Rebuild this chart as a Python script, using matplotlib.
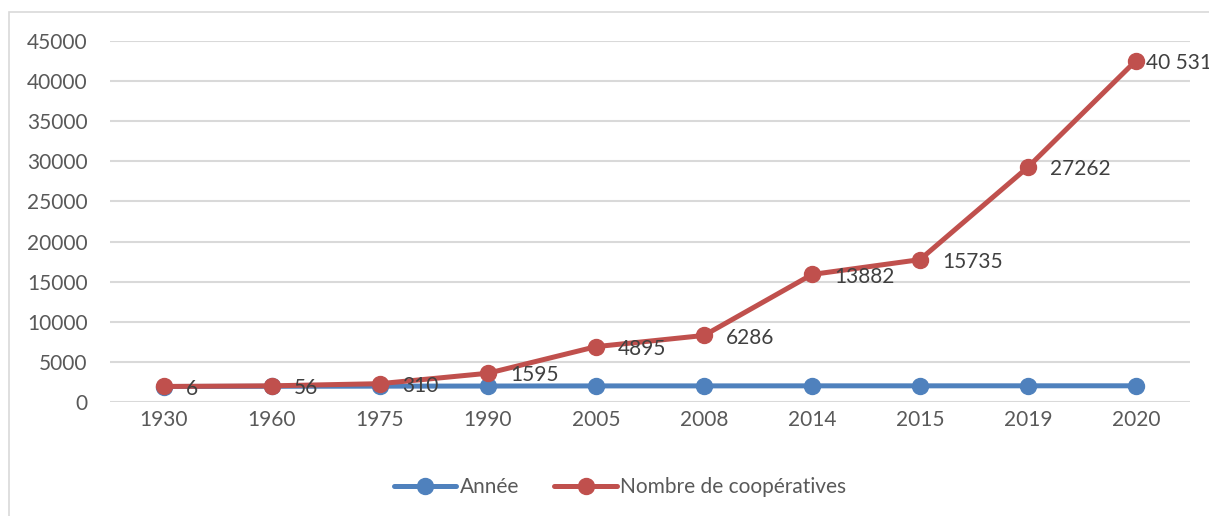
import numpy as np
import matplotlib.pyplot as plt
from matplotlib.patches import Rectangle

plt.rcParams["font.family"] = ["Lato", "DejaVu Sans"]
plt.rcParams["font.size"] = 15

"Data"
annees = ['1930', '1960', '1975', '1990', '2005', '2008', '2014', '2015', '2019', '2020']
serie_annee = [1930, 1960, 1975, 1990, 2005, 2008, 2014, 2015, 2019, 2020]
nb_coop = [6, 56, 310, 1595, 4895, 6286, 13882, 15735, 27262, 40531]
etiquettes = ['6', '56', '310', '1595', '4895', '6286', '13882', '15735', '27262', '40 531']

"Styles"
Blue = '#4F81BD'
Red = '#C0504D'
Grid_Color = '#D9D9D9'
Text_Color = '#595959'
Label_Color = '#404040'

fig = plt.figure(figsize=(12.09, 5.16), dpi=100)
fig.patches.append(Rectangle((9/1209, 1-12/516 - 600/516), 1.2, 600/516,
                             transform=fig.transFigure, fill=False,
                             edgecolor='#D9D9D9', linewidth=1.2))

ax = fig.add_axes([110/1209, 114/516, 1080/1209, 361/516])

x = np.arange(len(annees))
# stacked line chart: red series sits on top of the blue one
cumul = np.array(serie_annee) + np.array(nb_coop)

ax.plot(x, serie_annee, color=Blue, linewidth=3.6, marker='o', markersize=11.5,
        label='Année', zorder=3, solid_capstyle='round')
ax.plot(x, cumul, color=Red, linewidth=3.6, marker='o', markersize=11.5,
        label='Nombre de coopératives', zorder=4, solid_capstyle='round')

"Data labels"
for i, txt in enumerate(etiquettes):
    dx = 7 if i == len(etiquettes) - 1 else 16
    ax.annotate(txt, (x[i], cumul[i]), xytext=(dx, -1.5), textcoords='offset points',
                ha='left', va='center', color=Label_Color, fontsize=15, zorder=5)

"Axes"
ax.set_xlim(-0.5, len(annees) - 0.5)
ax.set_ylim(0, 45000)
ax.set_yticks(np.arange(0, 45001, 5000))
ax.set_xticks(x)
ax.set_xticklabels(annees)
ax.grid(axis='y', color=Grid_Color, linewidth=1.5, zorder=0)
ax.set_axisbelow(True)
for s in ['top', 'bottom', 'left', 'right']:
    ax.spines[s].set_visible(False)
ax.tick_params(axis='both', length=0, colors=Text_Color, labelsize=15)
ax.tick_params(axis='y', pad=16)
ax.tick_params(axis='x', pad=6)

"Legend"
fig.legend(loc='center', bbox_to_anchor=(620/1209, 1-487/516), ncol=2, frameon=False,
           handlelength=3.0, handletextpad=0.15, columnspacing=1.7,
           labelcolor=Text_Color, fontsize=15)

plt.savefig('out.png', dpi=100)
